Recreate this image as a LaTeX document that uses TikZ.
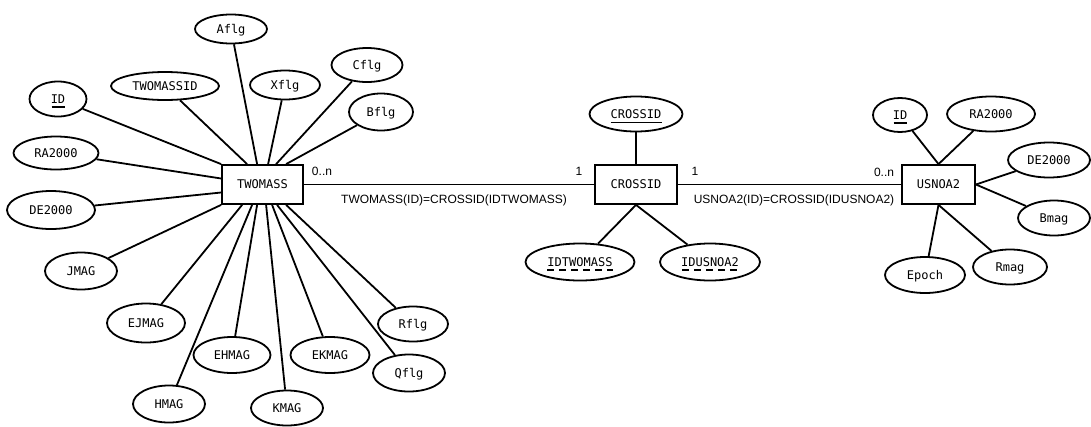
\documentclass[tikz,border=0pt]{standalone}
\usepackage{fontspec}
\newfontfamily\monof{DejaVu Sans Mono}
\newfontfamily\sansf{Liberation Sans}
\usetikzlibrary{shapes.geometric}
\begin{document}
\begin{tikzpicture}[x=1pt,y=-1pt, line width=1.8pt,
 ent/.style={draw, rectangle, inner sep=0pt, minimum height=39pt, text height=10pt, text depth=1.2pt, font=\monof\fontsize{12}{14}\selectfont},
 attr/.style={draw, ellipse, inner sep=0pt, text height=10pt, text depth=1.2pt, font=\monof\fontsize{12}{14}\selectfont},
 sz/.style 2 args={minimum width=#1pt, minimum height=#2pt},
 lbl/.style={font=\sansf\fontsize{12}{14}\selectfont, inner sep=0pt},
 ul/.style={line width=1.6pt},
 dul/.style={line width=1.6pt, dash pattern=on 7pt off 5pt}]
\useasboundingbox (0,0) rectangle (1091,426);

% entities
\node[ent, minimum width=81pt] (tm) at (262.5,184.5) {TWOMASS};
\node[ent, minimum width=82pt] (cr) at (636,184.5) {CROSSID};
\node[ent, minimum width=73pt] (us) at (938.5,184.5) {USNOA2};

% TWOMASS attributes
\node[attr, sz={57}{35}] (id1) at (58,99) {ID};
\node[attr, sz={85}{33}] (ra1) at (56,153) {RA2000};
\node[attr, sz={88}{38}] (de1) at (51,210) {DE2000};
\node[attr, sz={72}{37}] (jmag) at (81,271) {JMAG};
\node[attr, sz={78}{39}] (ejmag) at (146,323) {EJMAG};
\node[attr, sz={72}{37}] (hmag) at (169,404) {HMAG};
\node[attr, sz={77}{36}] (ehmag) at (232,355) {EHMAG};
\node[attr, sz={72}{35}] (kmag) at (287,408) {KMAG};
\node[attr, sz={79}{36}] (ekmag) at (330,355) {EKMAG};
\node[attr, sz={72}{37}] (qflg) at (409,373) {Qflg};
\node[attr, sz={70}{35}] (rflg) at (413,324) {Rflg};
\node[attr, sz={64}{37}] (bflg) at (381,112) {Bflg};
\node[attr, sz={71}{34}] (cflg) at (367,65) {Cflg};
\node[attr, sz={70}{29}] (xflg) at (285,85) {Xflg};
\node[attr, sz={72}{29}] (aflg) at (231,29) {Aflg};
\node[attr, sz={108}{28}] (tmid) at (165,86) {TWOMASSID};

% CROSSID attributes
\node[attr, sz={93}{35}] (crid) at (636,114) {CROSSID};
\node[attr, sz={109}{37}] (idtw) at (580,262) {IDTWOMASS};
\node[attr, sz={100}{37}] (idus) at (710,262) {IDUSNOA2};

% USNOA2 attributes
\node[attr, sz={54}{34}] (id2) at (900,115) {ID};
\node[attr, sz={88}{35}] (ra2) at (991,114) {RA2000};
\node[attr, sz={82}{35}] (de2) at (1049,160) {DE2000};
\node[attr, sz={72}{35}] (bmag) at (1054,218) {Bmag};
\node[attr, sz={74}{35}] (rmag) at (1010,267) {Rmag};
\node[attr, sz={80}{36}] (epoch) at (925,275) {Epoch};

% underlines
\draw[ul] ([shift={(-6.5,8)}]id1.center) -- ([shift={(6.5,8)}]id1.center);
\draw[ul] ([shift={(-6.5,8)}]id2.center) -- ([shift={(6.5,8)}]id2.center);
\draw[ul] ([shift={(-25.5,8.5)}]crid.center) -- ([shift={(25.5,8.5)}]crid.center);
\draw[dul] ([shift={(-33,8)}]idtw.center) -- ([shift={(33,8)}]idtw.center);
\draw[dul] ([shift={(-28,8)}]idus.center) -- ([shift={(28,8)}]idus.center);

% relationships
\draw (tm) -- (cr);
\draw (cr) -- (us);
\node[lbl] (m1) at (322,171) {0..n};
\node[lbl] (m2) at (579,171) {1};
\node[lbl] (m3) at (695,171) {1};
\node[lbl] (m4) at (884,172) {0..n};
\node[lbl] (r1) at (454,200) {TWOMASS(ID)=CROSSID(IDTWOMASS)};
\node[lbl] (r2) at (794,200) {USNOA2(ID)=CROSSID(IDUSNOA2)};

% TWOMASS connectors
\draw (tm.north west) -- (id1);
\draw ([xshift=26pt]tm.north west) -- (tmid);
\draw ([xshift=36pt]tm.north west) -- (aflg);
\draw ([xshift=47pt]tm.north west) -- (xflg);
\draw ([xshift=55pt]tm.north west) -- (cflg);
\draw ([xshift=65pt]tm.north west) -- (bflg);
\draw ([yshift=6pt]tm.west) -- (ra1);
\draw ([yshift=-8pt]tm.west) -- (de1);
\draw (tm.south west) -- (jmag);
\draw ([xshift=21pt]tm.south west) -- (ejmag);
\draw ([xshift=31pt]tm.south west) -- (hmag);
\draw ([xshift=36pt]tm.south west) -- (ehmag);
\draw ([xshift=45pt]tm.south west) -- (kmag);
\draw ([xshift=51pt]tm.south west) -- (ekmag);
\draw ([xshift=56pt]tm.south west) -- (qflg);
\draw ([xshift=65pt]tm.south west) -- (rflg);

% CROSSID connectors
\draw (cr.north) -- (crid);
\draw (cr.south) -- (idtw);
\draw (cr.south) -- (idus);

% USNOA2 connectors
\draw (us.north) -- (id2);
\draw (us.north) -- (ra2);
\draw (us.east) -- (de2);
\draw (us.east) -- (bmag);
\draw (us.south) -- (epoch);
\draw (us.south) -- (rmag);
\end{tikzpicture}
\end{document}
